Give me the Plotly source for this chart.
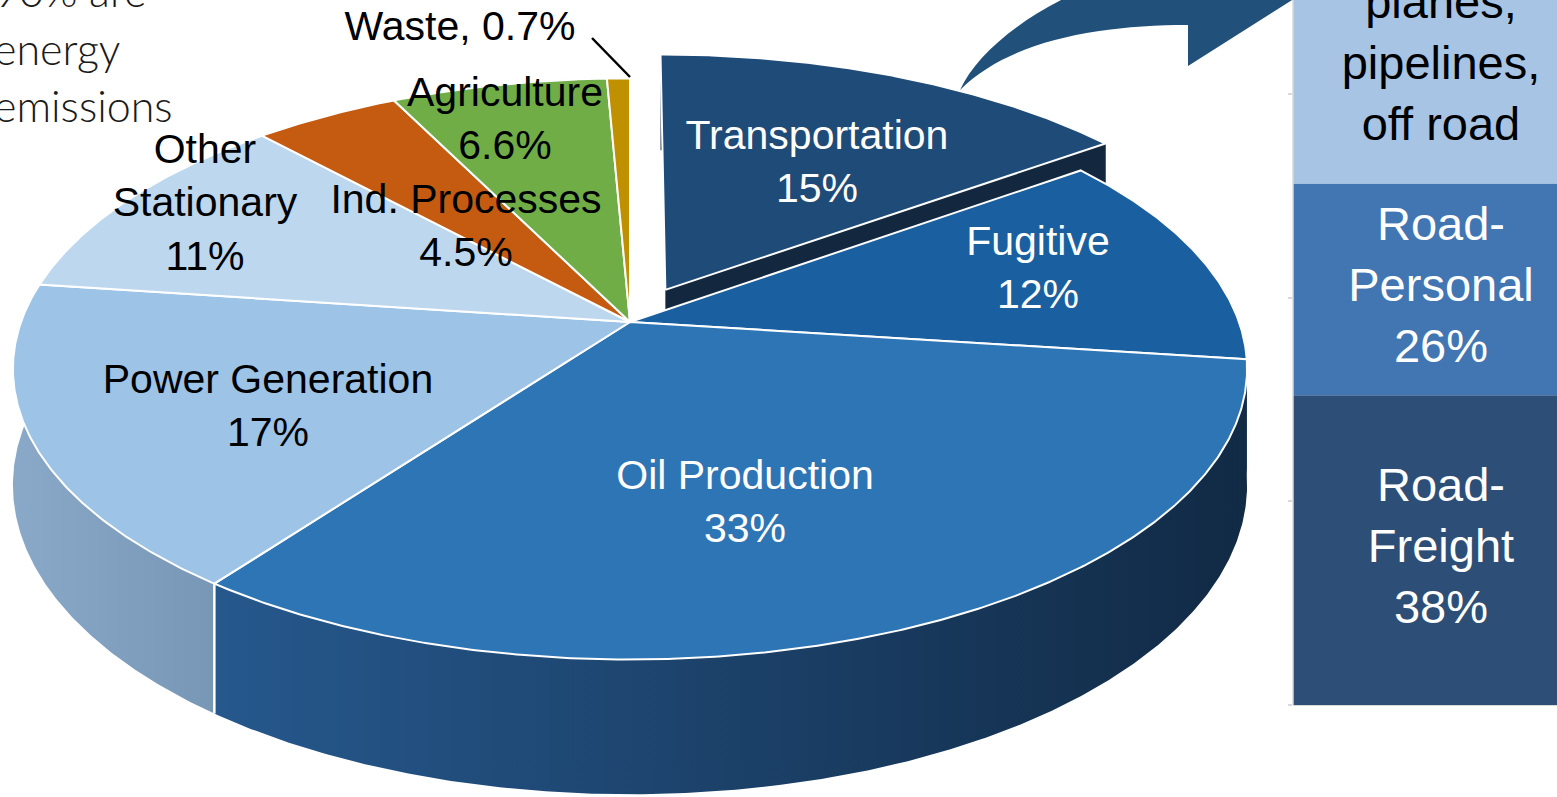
import numpy as np
import plotly.graph_objects as go

# ---------------- data ----------------
labels = ["Transportation", "Fugitive", "Oil Production", "Power Generation",
          "Other Stationary", "Ind. Processes", "Agriculture", "Waste"]
values = [15, 12, 33, 17, 11, 4.5, 6.6, 0.7]
display_names = ["Transportation", "Fugitive", "Oil Production", "Power Generation",
                 "Other<br>Stationary", "Ind. Processes", "Agriculture", "Waste,"]
exploded = ["Transportation"]

bar_labels = ["Road-<br>Freight", "Road-<br>Personal", "Rail, ships,<br>planes,<br>pipelines,<br>off road"]
bar_values = [38, 26, 36]
bar_show_pct = [True, True, False]

note_lines = ["90% are", "energy", "emissions"]

# ---------------- styles ----------------
top_colors = ["#1E4B78", "#1A5FA0", "#2E75B6", "#9DC3E6", "#BDD7EE", "#C55A11", "#70AD47", "#BF9000"]
wall_colors = [("#14304F", "#14304F"), ("#123F6B", "#0F3358"), ("#26588D", "#112A45"),
               ("#8AA8C8", "#7896B5"), ("#8FA8BF", "#8FA8BF"), ("#8A3F0C", "#8A3F0C"),
               ("#4F7A32", "#4F7A32"), ("#876600", "#876600")]
text_colors = ["white", "white", "white", "black", "black", "black", "black", "black"]
label_xy = {"Transportation": (817, 165), "Fugitive": (1038, 271), "Oil Production": (745, 505),
            "Power Generation": (268, 409), "Other Stationary": (205, 206),
            "Ind. Processes": (466, 229), "Agriculture": (505, 122), "Waste": (460, 30)}
bar_colors = ["#2D4F77", "#4176B3", "#A7C4E4"]
bar_text_colors = ["white", "white", "black"]

W, Hh = 1557, 797
CX, CY = 630, 322          # pie centre (pixels)
AX, AY = 609, 283          # radii of the top face
U = 0.1614                 # perspective strength
DEPTH = 113                # thickness of the pie
E = 0.13                   # explode distance (fraction of radius)
FONT = "Liberation Sans, Arial, sans-serif"


def proj(phi, r, z, off):
    ph = np.radians(phi)
    X = r * np.sin(ph) + off[0]
    Yw = -r * np.cos(ph) + off[1]
    s = 1.0 / (1.0 - U * Yw)
    return CX + AX * X * s, CY + AY * Yw * s + DEPTH * z * s


vals = np.array(values, dtype=float)
frac = vals / vals.sum()
ends = np.cumsum(frac) * 360.0
starts = ends - frac * 360.0

fig = go.Figure()

slices = []
for i, lab in enumerate(labels):
    p0, p1 = starts[i], ends[i]
    mid = np.radians((p0 + p1) / 2)
    off = (E * np.sin(mid), -E * np.cos(mid)) if lab in exploded else (0.0, 0.0)
    n = max(8, int((p1 - p0) * 3))
    phis = np.linspace(p0, p1, n)
    depth_key = np.mean(-np.cos(np.radians(phis)))
    slices.append((depth_key, i, p0, p1, off, phis))

# walls, back to front
for depth_key, i, p0, p1, off, phis in sorted(slices, key=lambda s: s[0]):
    tx, ty = proj(phis, 1, 0, off)
    bx, by = proj(phis, 1, 1, off)
    px = np.concatenate([tx, bx[::-1], tx[:1]])
    py = np.concatenate([ty, by[::-1], ty[:1]])
    c0, c1 = wall_colors[i]
    fig.add_trace(go.Scatter(x=px, y=py, mode="lines", fill="toself", line=dict(width=0),
                             fillgradient=dict(type="horizontal", colorscale=[[0, c0], [1, c1]]),
                             hoverinfo="skip", xaxis="x", yaxis="y"))
    if labels[i] in exploded:
        # radial cut face revealed by the explosion
        qx, qy = [], []
        for r, z in ((0, 0), (1, 0), (1, 1), (0, 1), (0, 0)):
            a, b = proj(p1, r, z, off)
            qx.append(a)
            qy.append(b)
        fig.add_trace(go.Scatter(x=qx, y=qy, mode="lines", fill="toself",
                                 fillcolor="#13283F", line=dict(width=0),
                                 hoverinfo="skip", xaxis="x", yaxis="y"))

# white edges on visible slice boundaries of the side wall
for b in ends[:-1]:
    if -np.cos(np.radians(b)) > U:
        x0, y0 = proj(b, 1, 0, (0, 0))
        x1, y1 = proj(b, 1, 1, (0, 0))
        fig.add_trace(go.Scatter(x=[x0, x1], y=[y0, y1], mode="lines",
                                 line=dict(color="white", width=2.5),
                                 hoverinfo="skip", xaxis="x", yaxis="y"))

# top faces
for depth_key, i, p0, p1, off, phis in slices:
    tx, ty = proj(phis, 1, 0, off)
    ax_, ay_ = proj(0, 0, 0, off)
    px = np.concatenate([[ax_], tx, [ax_]])
    py = np.concatenate([[ay_], ty, [ay_]])
    fig.add_trace(go.Scatter(x=px, y=py, mode="lines", fill="toself",
                             fillcolor=top_colors[i], line=dict(color="white", width=2),
                             hoverinfo="skip", xaxis="x", yaxis="y"))


def pct(v):
    return f"{v:.0f}%" if v >= 10 else f"{v:g}%"


lx, ly, lt = [], [], []
for i, lab in enumerate(labels):
    x, y = label_xy[lab]
    lx.append(x)
    ly.append(y)
    sep = " " if lab == "Waste" else "<br>"
    lt.append(f"{display_names[i]}{sep}{pct(values[i])}")
fig.add_trace(go.Scatter(x=lx, y=ly, mode="text", text=lt, textposition="middle center",
                         textfont=dict(family=FONT, size=41, color=text_colors),
                         hoverinfo="skip", xaxis="x", yaxis="y"))

# ---------------- stacked bar ----------------
cum = 0.0
tx2, ty2, tt2 = [], [], []
for v, lab, col, show in zip(bar_values, bar_labels, bar_colors, bar_show_pct):
    fig.add_trace(go.Bar(x=[0], y=[v], base=[cum], width=1.0, marker=dict(color=col, line=dict(width=0)),
                         hoverinfo="skip", xaxis="x2", yaxis="y2"))
    tx2.append(0)
    ty2.append(cum + v / 2)
    tt2.append(lab + (f"<br>{v}%" if show else ""))
    cum += v
fig.add_trace(go.Scatter(x=tx2, y=ty2, mode="text", text=tt2, textposition="middle center",
                         textfont=dict(family=FONT, size=47, color=bar_text_colors),
                         hoverinfo="skip", xaxis="x2", yaxis="y2"))

PX_PER_PCT = 8.15
Y0_PIX = 705
BAR_LEFT, BAR_W = 1293, 296

fig.update_layout(
    width=W, height=Hh, margin=dict(l=0, r=0, t=0, b=0),
    paper_bgcolor="white", plot_bgcolor="rgba(0,0,0,0)", showlegend=False,
    barmode="overlay",
    xaxis=dict(range=[0, W], domain=[0, 1], visible=False, fixedrange=True),
    yaxis=dict(range=[Hh, 0], domain=[0, 1], visible=False, fixedrange=True),
    xaxis2=dict(domain=[BAR_LEFT / W, 1], range=[-0.5, -0.5 + (W - BAR_LEFT) / BAR_W],
                anchor="y2", visible=False, fixedrange=True),
    yaxis2=dict(domain=[0, 1], anchor="x2",
                range=[-(Hh - Y0_PIX) / PX_PER_PCT, Y0_PIX / PX_PER_PCT],
                showline=False,
                ticks="outside", ticklen=4, tickwidth=1.5, tickcolor="#D9D9D9",
                tickvals=[0, 25, 50, 75, 100], showticklabels=False, showgrid=False,
                zeroline=True, zerolinecolor="#D9D9D9", zerolinewidth=2, fixedrange=True),
)

# value-axis line of the bar (from 0 upwards)
fig.add_shape(type="line", xref="x2 domain", yref="y2", x0=0, x1=0, y0=0, y1=200,
              line=dict(color="#D9D9D9", width=1.5), layer="above")

# curved block arrow from the Transportation slice to the breakdown bar
fig.add_shape(type="path", xref="x", yref="y", layer="above",
              path="M 960,90 C 985,35 1080,-25 1188,-40 L 1188,-110 L 1330,-24 L 1188,66 "
                   "L 1188,25 C 1100,25 1010,40 960,90 Z",
              fillcolor="#21507A", line=dict(width=0))
# leader line for Waste
fig.add_shape(type="line", xref="x", yref="y", x0=592, y0=38, x1=630, y1=77,
              line=dict(color="black", width=2.5))

# note text (partly outside the frame)
for k, line in enumerate(note_lines):
    fig.add_annotation(x=-8 / W, y=1 - (-9 + 57 * k) / Hh, xref="paper", yref="paper",
                       text=line, showarrow=False, xanchor="left", yanchor="middle",
                       font=dict(family="Lato, Open Sans, sans-serif", size=43,
                                 color="#1A1A1A", weight=300))

fig.write_html("out.html")
